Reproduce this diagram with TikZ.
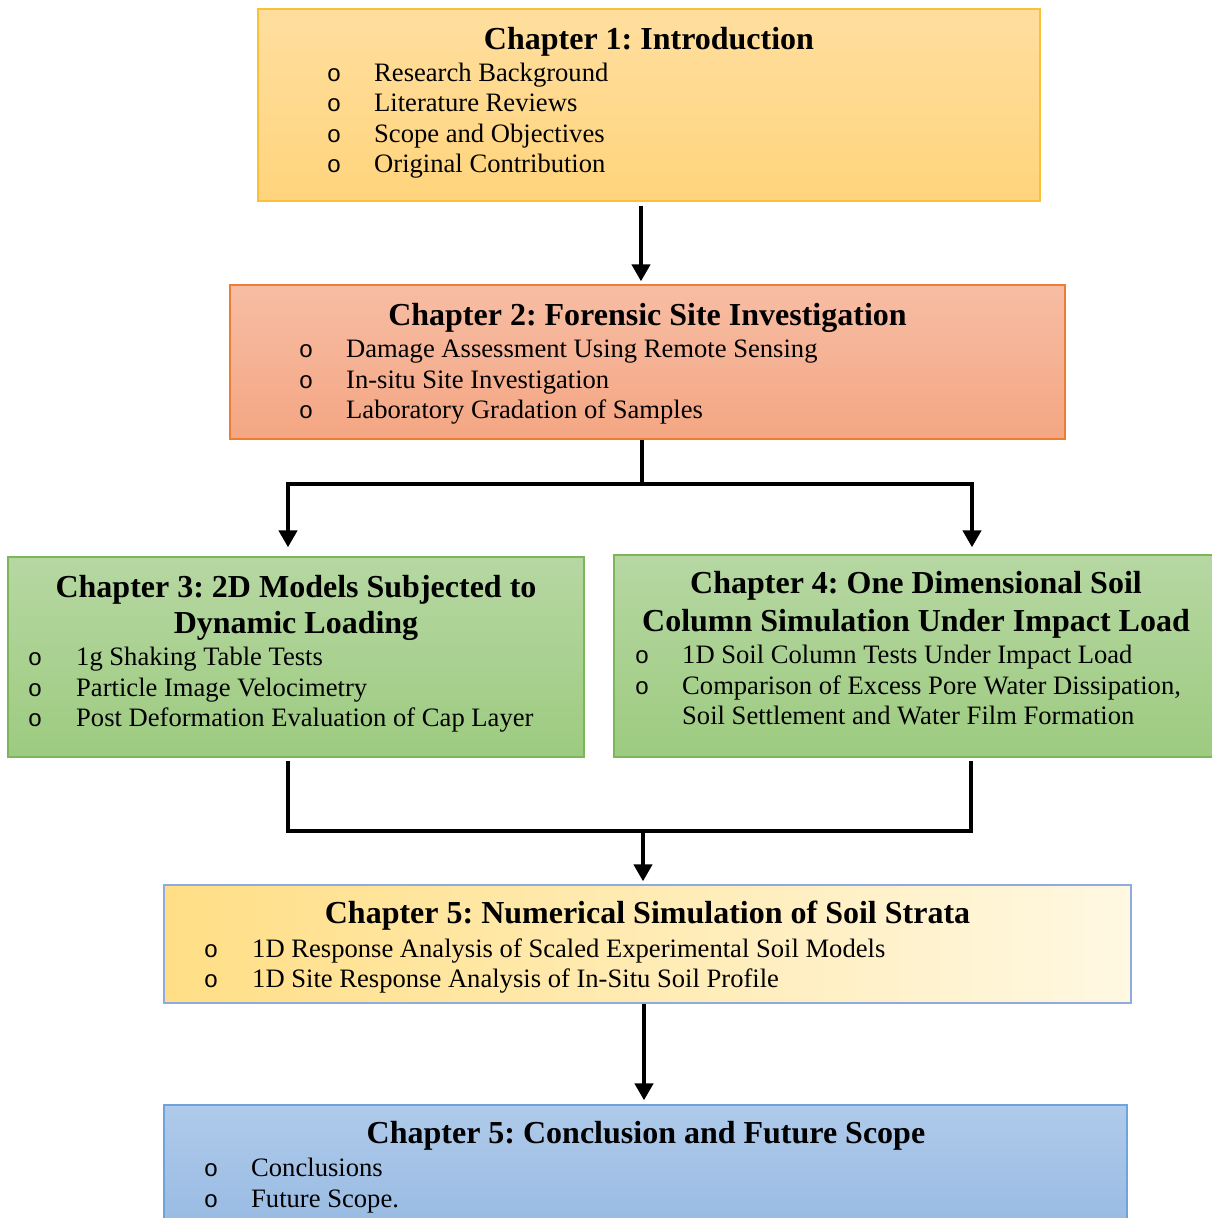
\documentclass[tikz,border=0pt]{standalone}
\usepackage{fontspec}
\setmainfont{Liberation Serif}
\newfontfamily\bulletfont{Liberation Mono}
\usetikzlibrary{arrows.meta}
\frenchspacing
\definecolor{yTop}{HTML}{FFDE9E}
\definecolor{yBot}{HTML}{FFD47C}
\definecolor{yLine}{HTML}{F8C137}
\definecolor{oTop}{HTML}{F7BDA4}
\definecolor{oBot}{HTML}{F4A683}
\definecolor{oLine}{HTML}{ED7D31}
\definecolor{gTop}{HTML}{B6D7A2}
\definecolor{gBot}{HTML}{9DCB80}
\definecolor{gLine}{HTML}{7DB55A}
\definecolor{lyLeft}{HTML}{FFDE85}
\definecolor{lyMid}{HTML}{FFE6A0}
\definecolor{lyRight}{HTML}{FFF8E2}
\definecolor{lyLine}{HTML}{8FAADC}
\definecolor{bTop}{HTML}{AFCAEA}
\definecolor{bBot}{HTML}{99BBE3}
\definecolor{bLine}{HTML}{6FA3DA}
\begin{document}
\begin{tikzpicture}[x=1pt,y=-1pt,
  box/.style={draw, line width=1.3pt, inner sep=0pt},
  ttl/.style={font=\fontsize{32}{37}\selectfont\bfseries\frenchspacing, anchor=base, inner sep=0pt},
  itm/.style={font=\fontsize{26.6}{30.5}\selectfont\frenchspacing, anchor=base west, inner sep=0pt},
  bul/.style={font=\fontsize{24}{30.5}\selectfont\bulletfont, anchor=base, inner sep=0pt},
  conn/.style={line width=4.2pt, line join=miter},
  arr/.style={line width=4.2pt, line join=miter, -{Triangle[width=18pt,length=17pt]}}
]
\useasboundingbox (0,0) rectangle (1211,1218);

% boxes
\node[box, draw=yLine, top color=yTop, bottom color=yBot, minimum width=782pt, minimum height=192pt] (c1) at (649,105) {};
\node[box, draw=oLine, top color=oTop, bottom color=oBot, minimum width=835pt, minimum height=154pt] (c2) at (647.5,362) {};
\node[box, draw=gLine, top color=gTop, bottom color=gBot, minimum width=576pt, minimum height=200pt] (c3) at (296,657) {};
\node[box, draw=gLine, top color=gTop, bottom color=gBot, minimum width=599pt, minimum height=202pt] (c4) at (913.5,656) {};
\node[box, draw=lyLine, left color=lyLeft, middle color=lyMid, right color=lyRight, minimum width=967pt, minimum height=118pt] (c5) at (647.5,944) {};
\node[box, draw=bLine, top color=bTop, bottom color=bBot, minimum width=963pt, minimum height=119pt] (c6) at (645.5,1164.5) {};

% box 1 text
\node[ttl] (t1) at (649,49) {Chapter 1: Introduction};
\node[bul] (b11) at (334,81) {o};  \node[itm] (i11) at (374,81) {Research Background};
\node[bul] (b12) at (334,111) {o}; \node[itm] (i12) at (374,111) {Literature Reviews};
\node[bul] (b13) at (334,142) {o}; \node[itm] (i13) at (374,142) {Scope and Objectives};
\node[bul] (b14) at (334,172) {o}; \node[itm] (i14) at (374,172) {Original Contribution};

% box 2 text
\node[ttl] (t2) at (647.5,325) {Chapter 2: Forensic Site Investigation};
\node[bul] (b21) at (306,357) {o}; \node[itm] (i21) at (346,357) {Damage Assessment Using Remote Sensing};
\node[bul] (b22) at (306,388) {o}; \node[itm] (i22) at (346,388) {In-situ Site Investigation};
\node[bul] (b23) at (306,418) {o}; \node[itm] (i23) at (346,418) {Laboratory Gradation of Samples};

% box 3 text
\node[ttl] (t3a) at (296,597) {Chapter 3: 2D Models Subjected to};
\node[ttl] (t3b) at (296,633) {Dynamic Loading};
\node[bul] (b31) at (35,665) {o}; \node[itm] (i31) at (76,665) {1g Shaking Table Tests};
\node[bul] (b32) at (35,696) {o}; \node[itm] (i32) at (76,696) {Particle Image Velocimetry};
\node[bul] (b33) at (35,726) {o}; \node[itm] (i33) at (76,726) {Post Deformation Evaluation of Cap Layer};

% box 4 text
\node[ttl] (t4a) at (916,593) {Chapter 4: One Dimensional Soil};
\node[ttl] (t4b) at (916,631) {Column Simulation Under Impact Load};
\node[bul] (b41) at (642,663) {o}; \node[itm] (i41) at (682,663) {1D Soil Column Tests Under Impact Load};
\node[bul] (b42) at (642,694) {o}; \node[itm] (i42) at (682,694) {Comparison of Excess Pore Water Dissipation,};
\node[itm] (i43) at (682,724) {Soil Settlement and Water Film Formation};

% box 5 text
\node[ttl] (t5) at (647.5,923) {Chapter 5: Numerical Simulation of Soil Strata};
\node[bul] (b51) at (211,957) {o}; \node[itm] (i51) at (252,957) {1D Response Analysis of Scaled Experimental Soil Models};
\node[bul] (b52) at (211,987) {o}; \node[itm] (i52) at (252,987) {1D Site Response Analysis of In-Situ Soil Profile};

% box 6 text
\node[ttl] (t6) at (646,1143) {Chapter 5: Conclusion and Future Scope};
\node[bul] (b61) at (211,1176) {o}; \node[itm] (i61) at (251,1176) {Conclusions};
\node[bul] (b62) at (211,1207) {o}; \node[itm] (i62) at (251,1207) {Future Scope.};

% connectors
\draw[arr] ([xshift=-8pt,yshift=-4pt]c1.south) -- ([xshift=-6.5pt,yshift=3pt]c2.north);

\coordinate (s) at (642,484);
\draw[conn] ([xshift=-5.5pt]c2.south) -- ([yshift=-2pt]s);
\draw[arr] (s) -| ([xshift=-8pt,yshift=9pt]c3.north);
\draw[arr] (s) -| ([xshift=58.5pt,yshift=7pt]c4.north);

\coordinate (m) at (643,831);
\draw[conn] ([xshift=-8pt,yshift=-3pt]c3.south) |- (m);
\draw[conn] ([xshift=57.5pt,yshift=-3pt]c4.south) |- (m);
\draw[arr] ([yshift=2pt]m) -- ([xshift=-4.5pt,yshift=3pt]c5.north);

\draw[arr] ([xshift=-3.5pt]c5.south) -- ([xshift=-1.5pt,yshift=4pt]c6.north);
\end{tikzpicture}
\end{document}
